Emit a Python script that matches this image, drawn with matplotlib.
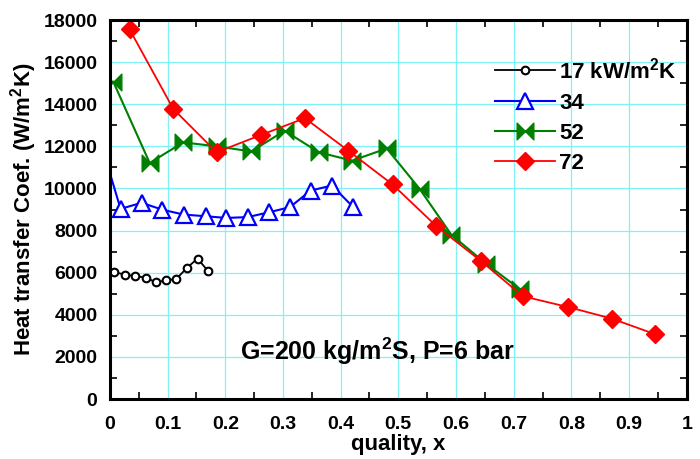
import matplotlib
matplotlib.use("Agg")
import matplotlib.pyplot as plt
from matplotlib.path import Path
from matplotlib.ticker import MultipleLocator

plt.rcParams.update({
    "font.family": ["Liberation Sans", "DejaVu Sans"],
    "font.weight": "bold",
    "mathtext.fontset": "custom",
    "mathtext.rm": "Liberation Sans:bold",
    "mathtext.bf": "Liberation Sans:bold",
    "mathtext.it": "Liberation Sans:bold",
    "mathtext.default": "bf",
})

# heat flux 17 kW/m2K
x17 = [0.007, 0.026, 0.043, 0.062, 0.080, 0.098, 0.115, 0.134, 0.152, 0.170]
h17 = [6030, 5910, 5840, 5770, 5540, 5640, 5700, 6240, 6670, 6080]

# heat flux 34
x34 = [-0.015, 0.0185, 0.055, 0.091, 0.128, 0.166, 0.202, 0.239, 0.276, 0.312,
       0.348, 0.385, 0.422]
h34 = [12100, 9030, 9320, 8990, 8760, 8680, 8600, 8640, 8870, 9110,
       9900, 10140, 9110]

# heat flux 52
x52 = [0.006, 0.069, 0.127, 0.185, 0.245, 0.303, 0.362, 0.420, 0.480,
       0.537, 0.592, 0.652, 0.711]
h52 = [15060, 11210, 12190, 12000, 11760, 12740, 11720, 11320, 11900,
       9980, 7800, 6430, 5210]

# heat flux 72
x72 = [0.034, 0.110, 0.185, 0.262, 0.338, 0.413, 0.490, 0.566, 0.644,
       0.716, 0.794, 0.870, 0.945]
h72 = [17560, 13770, 11720, 12540, 13340, 11800, 10190, 8210, 6540,
       4880, 4370, 3820, 3080]

xticks = [0, 0.1, 0.2, 0.3, 0.4, 0.5, 0.6, 0.7, 0.8, 0.9, 1]
xticklabels = ["0", "0.1", "0.2", "0.3", "0.4", "0.5", "0.6", "0.7", "0.8", "0.9", "1"]

# bow-tie marker: two triangles meeting at the centre
bowtie = Path(
    [(-1, -1), (0, 0), (-1, 1), (-1, -1), (1, -1), (0, 0), (1, 1), (1, -1)],
    [Path.MOVETO, Path.LINETO, Path.LINETO, Path.CLOSEPOLY,
     Path.MOVETO, Path.LINETO, Path.LINETO, Path.CLOSEPOLY],
)

fig = plt.figure(figsize=(7.0, 4.59), dpi=100)
ax = fig.add_axes([0.157, 0.1307, 0.824, 0.8257])

ax.plot(x17, h17, color="black", lw=1.3, marker="o", ms=5.5, mfc="white",
        mec="black", mew=1.5, label=r"17 kW/m$^2$K")
ax.plot(x34, h34, color="#0000ff", lw=1.5, marker="^", ms=11, mfc="white",
        mec="#0000ff", mew=1.6, label="34")
ax.plot(x52, h52, color="#007f00", lw=1.5, marker=bowtie, ms=12,
        mfc="#007f00", mec="#007f00", label="52")
ax.plot(x72, h72, color="#ff0000", lw=1.3, marker="D", ms=9,
        mfc="#ff0000", mec="#ff0000", label="72")

ax.set_xlim(0, 1)
ax.set_ylim(0, 18000)
ax.set_xticks(xticks)
ax.set_xticklabels(xticklabels)
ax.yaxis.set_major_locator(MultipleLocator(2000))
ax.xaxis.set_minor_locator(MultipleLocator(0.05))
ax.yaxis.set_minor_locator(MultipleLocator(1000))
ax.grid(True, which="major", color="#7ff2f7", lw=0.9)
ax.set_axisbelow(True)
ax.tick_params(which="major", length=0, labelsize=14)
ax.tick_params(axis="x", which="major", pad=12)
ax.tick_params(axis="y", which="major", pad=9)
ax.tick_params(which="minor", direction="in", length=5, width=1.2,
               top=True, right=True)
for s in ax.spines.values():
    s.set_linewidth(2.2)

ax.set_xlabel("quality, x", fontsize=16, fontweight="bold")
ax.xaxis.set_label_coords(0.5, -0.093)
ax.set_ylabel(r"Heat transfer Coef. (W/m$^2$K)", fontsize=16,
              fontweight="bold", labelpad=3)

ax.text(0.464, 2250, r"G=200 kg/m$^2$S, P=6 bar", fontsize=18,
        fontweight="bold", ha="center", va="center")

leg = ax.legend(loc="upper left", bbox_to_anchor=(0.652, 0.925), frameon=False,
                fontsize=16, handlelength=2.7, handletextpad=0.2,
                labelspacing=0.42, borderaxespad=0)

fig.savefig("out.png", dpi=100)
